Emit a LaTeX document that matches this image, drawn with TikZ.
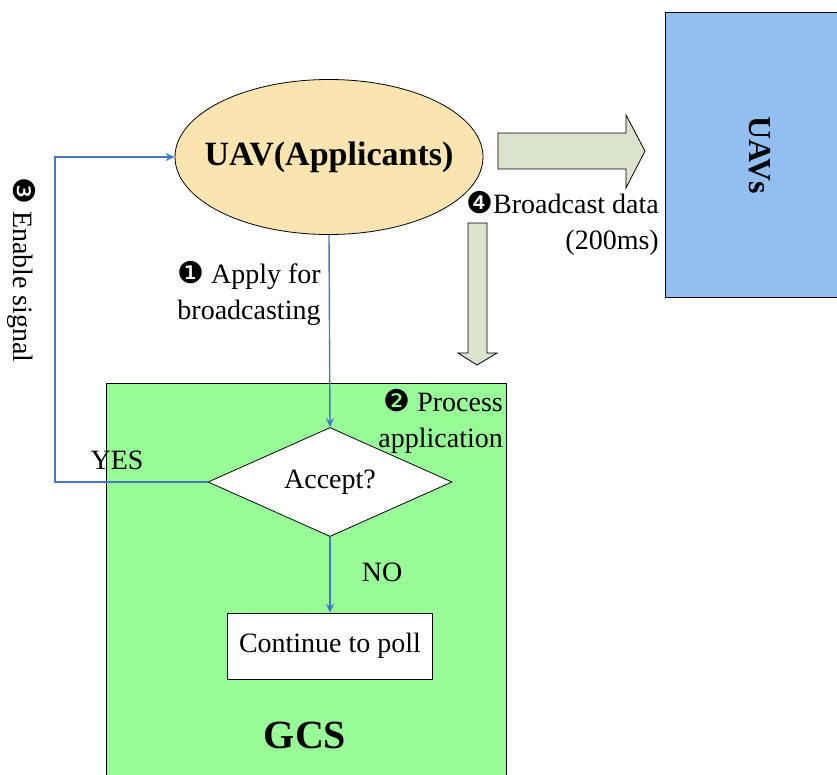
\documentclass[tikz,border=0pt]{standalone}
\usepackage{fontspec}
\setmainfont{Liberation Serif}
\newfontfamily\dingfont{DejaVu Sans}
\usepackage{xcolor}
\usetikzlibrary{shapes.geometric,arrows.meta}
\definecolor{uavfill}{HTML}{FAE4AF}
\definecolor{uavsblue}{HTML}{92BEF0}
\definecolor{gcsgreen}{HTML}{98FB98}
\definecolor{blockfill}{HTML}{DCE3CD}
\definecolor{flowblue}{HTML}{4678C8}
\newcommand{\dnum}[1]{{\dingfont\fontsize{30}{30}\selectfont #1}}

\begin{document}
\begin{tikzpicture}[x=1pt, y=-1pt,
    every node/.style = {font=\fontsize{28}{36}\selectfont},
    flow/.style = {draw=flowblue, line width=1.4pt, -{Stealth[length=9pt,width=8pt]}},
    block/.style = {draw=black, line width=0.8pt, fill=blockfill},
    lbl/.style = {inner sep=0pt}]
        \useasboundingbox (0,0) rectangle (837,774);
        \clip (0,0) rectangle (837,774);
        % boxes
        \draw[fill=gcsgreen, line width=0.8pt] (106,383) rectangle (506,790);
        \node[draw, fill=uavsblue, line width=0.8pt, rotate=-90, minimum width=285pt, minimum height=190pt,
              font=\bfseries\fontsize{32}{36}\selectfont] (uavs) at (760,155) {UAVs};
        \node[lbl, font=\bfseries\fontsize{40}{44}\selectfont] (gcs) at (305,735) {GCS};
        % flow nodes
        \node[draw, ellipse, fill=uavfill, line width=0.8pt, inner xsep=-18pt, inner ysep=0pt,
              minimum width=308pt, minimum height=155pt,
              font=\bfseries\fontsize{34}{38}\selectfont] (uav) at (329,157) {UAV(Applicants)};
        \node[draw, diamond, fill=white, line width=0.8pt, aspect=2.24, inner sep=0pt,
              minimum width=244pt, minimum height=109pt] (accept) at (330,482) {Accept?};
        \node[draw, fill=white, line width=0.8pt, minimum width=205pt, minimum height=66pt] (poll) at (330,646) {Continue to poll};
        % block arrows
        \draw[block] (498,133) -- (626,133) -- (626,115) -- (645,151) -- (626,188) -- (626,169) -- (498,169) -- cycle;
        \draw[block] (468,223) -- (487,223) -- (487,353) -- (497,353) -- (477,365) -- (458,353) -- (468,353) -- cycle;
        % connectors
        \coordinate (turn) at (55,482);
        \draw[flow] (uav.south) -- (accept.north);
        \draw[flow] (accept.south) -- (poll.north);
        \draw[flow] (accept.west) -- (turn) |- (uav.west);
        % labels
        \node[lbl, align=center] (apply) at (249,293) {\dnum{❶} Apply for\\broadcasting};
        \node[lbl, align=right, anchor=east] (process) at (503,421) {\dnum{❷} Process\\application};
        \node[lbl, rotate=-90] (enable) at (22,270) {\dnum{❸} Enable signal};
        \node[lbl, align=right, anchor=east] (bcast) at (659,223) {\dnum{❹}Broadcast data\\(200ms)};
        \node[lbl] (yes) at (117,460) {YES};
        \node[lbl] (no) at (382,572) {NO};
    \end{tikzpicture}
\end{document}
